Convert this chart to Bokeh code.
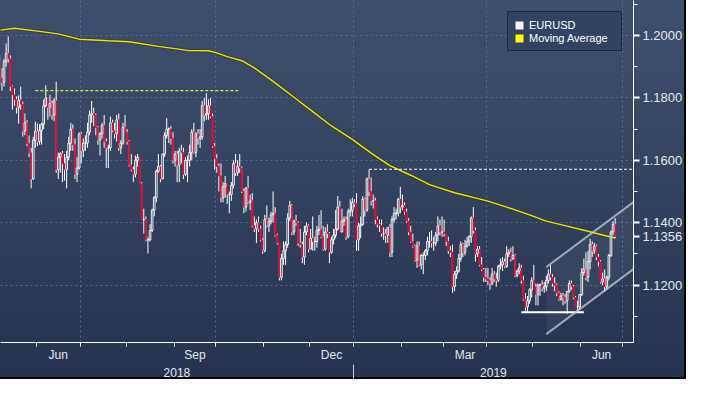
import numpy as np
import pandas as pd
from bokeh.plotting import figure
from bokeh.models import (Range1d, FixedTicker, LinearAxis, Legend,
                          LegendItem, ColumnDataSource)
from bokeh.embed import file_html
from bokeh.resources import INLINE

# ---------------- data (daily EURUSD candles) ----------
start_date = "2018-05-08"
open_first = 1.1917

close_may18 = [1.1863,1.1850,1.1917,1.1942,1.1925,1.1836,1.1810,1.1795,1.1770,1.1792,1.1780,1.1694,1.1720,1.1654,1.1624,1.1540,1.1664,1.1693]
high_may18 = [1.1937,1.1895,1.1925,1.1974,1.1997,1.1936,1.1840,1.1830,1.1805,1.1808,1.1836,1.1788,1.1750,1.1728,1.1680,1.1640,1.1675,1.1724]
low_may18 = [1.1838,1.1823,1.1836,1.1900,1.1913,1.1822,1.1762,1.1775,1.1750,1.1717,1.1762,1.1676,1.1680,1.1645,1.1610,1.1510,1.1537,1.1640]

close_jun18 = [1.1660,1.1696,1.1716,1.1775,1.1799,1.1770,1.1782,1.1745,1.1790,1.1570,1.1610,1.1622,1.1590,1.1570,1.1610,1.1655,1.1700,1.1650,1.1555,1.1575,1.1683]
high_jun18 = [1.1718,1.1716,1.1720,1.1795,1.1840,1.1800,1.1810,1.1792,1.1800,1.1852,1.1625,1.1625,1.1630,1.1620,1.1630,1.1675,1.1720,1.1715,1.1670,1.1610,1.1690]
low_jun18 = [1.1645,1.1650,1.1650,1.1700,1.1770,1.1730,1.1740,1.1730,1.1725,1.1560,1.1540,1.1560,1.1530,1.1535,1.1510,1.1600,1.1630,1.1630,1.1540,1.1530,1.1570]

close_jul18 = [1.1630,1.1655,1.1655,1.1690,1.1745,1.1750,1.1745,1.1705,1.1665,1.1685,1.1712,1.1660,1.1640,1.1640,1.1720,1.1695,1.1685,1.1730,1.1640,1.1655,1.1705,1.1690]
high_jul18 = [1.1690,1.1670,1.1680,1.1720,1.1760,1.1790,1.1768,1.1750,1.1710,1.1690,1.1720,1.1745,1.1670,1.1650,1.1740,1.1730,1.1720,1.1745,1.1750,1.1665,1.1720,1.1745]
low_jul18 = [1.1590,1.1610,1.1630,1.1640,1.1680,1.1720,1.1710,1.1680,1.1650,1.1615,1.1670,1.1640,1.1575,1.1575,1.1630,1.1690,1.1670,1.1660,1.1630,1.1620,1.1650,1.1690]

close_aug18 = [1.1660,1.1585,1.1570,1.1555,1.1600,1.1610,1.1525,1.1410,1.1410,1.1345,1.1345,1.1375,1.1440,1.1480,1.1565,1.1580,1.1540,1.1620,1.1680,1.1700,1.1700,1.1670,1.1600]
high_aug18 = [1.1700,1.1665,1.1620,1.1580,1.1615,1.1620,1.1610,1.1530,1.1445,1.1420,1.1355,1.1395,1.1445,1.1485,1.1570,1.1620,1.1585,1.1620,1.1690,1.1735,1.1705,1.1710,1.1690]
low_aug18 = [1.1650,1.1580,1.1565,1.1530,1.1545,1.1580,1.1525,1.1410,1.1365,1.1340,1.1301,1.1340,1.1370,1.1420,1.1465,1.1560,1.1530,1.1540,1.1610,1.1670,1.1655,1.1650,1.1590]

close_sep18 = [1.1620,1.1585,1.1630,1.1625,1.1555,1.1600,1.1600,1.1625,1.1690,1.1625,1.1685,1.1670,1.1675,1.1775,1.1745,1.1750,1.1775,1.1740,1.1645,1.1605]
high_sep18 = [1.1630,1.1630,1.1640,1.1650,1.1640,1.1610,1.1615,1.1650,1.1700,1.1720,1.1690,1.1700,1.1700,1.1790,1.1800,1.1815,1.1795,1.1800,1.1750,1.1655]
low_sep18 = [1.1580,1.1530,1.1530,1.1590,1.1540,1.1550,1.1530,1.1580,1.1600,1.1620,1.1610,1.1650,1.1640,1.1665,1.1725,1.1730,1.1730,1.1735,1.1640,1.1570]

close_oct18 = [1.1580,1.1550,1.1480,1.1515,1.1525,1.1490,1.1490,1.1520,1.1590,1.1560,1.1580,1.1575,1.1500,1.1450,1.1510,1.1465,1.1470,1.1390,1.1380,1.1400,1.1380,1.1345,1.1310]
high_oct18 = [1.1620,1.1590,1.1590,1.1530,1.1550,1.1525,1.1500,1.1530,1.1600,1.1620,1.1600,1.1620,1.1580,1.1510,1.1515,1.1550,1.1490,1.1495,1.1420,1.1410,1.1420,1.1390,1.1350]
low_oct18 = [1.1560,1.1500,1.1465,1.1465,1.1480,1.1460,1.1430,1.1470,1.1510,1.1550,1.1550,1.1560,1.1495,1.1430,1.1435,1.1460,1.1440,1.1385,1.1370,1.1335,1.1370,1.1340,1.1300]

close_nov18 = [1.1410,1.1390,1.1405,1.1425,1.1430,1.1360,1.1335,1.1225,1.1285,1.1310,1.1330,1.1415,1.1455,1.1370,1.1405,1.1400,1.1335,1.1330,1.1290,1.1370,1.1390,1.1315]
high_nov18 = [1.1425,1.1455,1.1415,1.1435,1.1500,1.1450,1.1365,1.1335,1.1300,1.1340,1.1340,1.1430,1.1470,1.1460,1.1410,1.1425,1.1405,1.1380,1.1340,1.1390,1.1400,1.1395]
low_nov18 = [1.1305,1.1385,1.1370,1.1395,1.1400,1.1355,1.1330,1.1215,1.1215,1.1265,1.1265,1.1320,1.1405,1.1360,1.1360,1.1390,1.1325,1.1320,1.1270,1.1265,1.1360,1.1305]

close_dec18 = [1.1350,1.1340,1.1340,1.1375,1.1380,1.1355,1.1315,1.1370,1.1365,1.1305,1.1345,1.1360,1.1380,1.1450,1.1370,1.1405,1.1410,1.1355,1.1435,1.1440,1.1465]
high_dec18 = [1.1380,1.1420,1.1355,1.1390,1.1425,1.1440,1.1390,1.1385,1.1395,1.1370,1.1355,1.1380,1.1440,1.1485,1.1470,1.1445,1.1420,1.1420,1.1445,1.1475,1.1480]
low_dec18 = [1.1320,1.1310,1.1310,1.1320,1.1360,1.1350,1.1310,1.1310,1.1350,1.1270,1.1300,1.1330,1.1350,1.1375,1.1370,1.1370,1.1390,1.1345,1.1350,1.1420,1.1420]

close_jan19 = [1.1460,1.1345,1.1390,1.1395,1.1475,1.1440,1.1540,1.1500,1.1470,1.1470,1.1410,1.1395,1.1390,1.1365,1.1365,1.1360,1.1385,1.1305,1.1410,1.1430,1.1430,1.1475,1.1450]
high_jan19 = [1.1475,1.1495,1.1400,1.1420,1.1485,1.1480,1.1545,1.1570,1.1545,1.1490,1.1480,1.1420,1.1410,1.1410,1.1385,1.1380,1.1385,1.1395,1.1420,1.1450,1.1445,1.1480,1.1515]
low_jan19 = [1.1450,1.1310,1.1310,1.1350,1.1390,1.1420,1.1435,1.1485,1.1455,1.1445,1.1395,1.1385,1.1370,1.1355,1.1345,1.1335,1.1335,1.1290,1.1290,1.1400,1.1410,1.1420,1.1430]

close_feb19 = [1.1455,1.1435,1.1405,1.1370,1.1340,1.1325,1.1280,1.1325,1.1265,1.1295,1.1295,1.1310,1.1340,1.1340,1.1335,1.1335,1.1360,1.1390,1.1370,1.1370]
high_feb19 = [1.1490,1.1465,1.1445,1.1415,1.1390,1.1365,1.1330,1.1340,1.1340,1.1300,1.1305,1.1315,1.1355,1.1370,1.1375,1.1355,1.1370,1.1420,1.1410,1.1420]
low_feb19 = [1.1440,1.1425,1.1400,1.1360,1.1335,1.1320,1.1275,1.1255,1.1260,1.1250,1.1235,1.1280,1.1295,1.1320,1.1320,1.1310,1.1325,1.1340,1.1360,1.1355]

close_mar19 = [1.1365,1.1340,1.1310,1.1305,1.1195,1.1235,1.1245,1.1285,1.1330,1.1305,1.1325,1.1340,1.1355,1.1415,1.1375,1.1300,1.1315,1.1265,1.1250,1.1225,1.1220]
high_mar19 = [1.1410,1.1365,1.1355,1.1325,1.1330,1.1245,1.1260,1.1300,1.1340,1.1335,1.1345,1.1355,1.1360,1.1420,1.1450,1.1385,1.1325,1.1325,1.1290,1.1255,1.1255]
low_mar19 = [1.1355,1.1325,1.1300,1.1290,1.1175,1.1180,1.1220,1.1240,1.1275,1.1290,1.1295,1.1320,1.1325,1.1335,1.1365,1.1275,1.1290,1.1260,1.1245,1.1210,1.1210]

close_apr19 = [1.1215,1.1205,1.1235,1.1220,1.1215,1.1260,1.1265,1.1275,1.1260,1.1300,1.1305,1.1285,1.1295,1.1230,1.1245,1.1255,1.1215,1.1155,1.1130,1.1150,1.1185,1.1215]
high_apr19 = [1.1255,1.1225,1.1255,1.1245,1.1240,1.1265,1.1285,1.1290,1.1285,1.1325,1.1315,1.1320,1.1325,1.1300,1.1250,1.1270,1.1265,1.1230,1.1175,1.1165,1.1190,1.1225]
low_apr19 = [1.1200,1.1185,1.1200,1.1210,1.1195,1.1210,1.1250,1.1245,1.1255,1.1255,1.1290,1.1275,1.1280,1.1225,1.1225,1.1235,1.1205,1.1150,1.1115,1.1112,1.1140,1.1160]

close_may19 = [1.1195,1.1170,1.1200,1.1200,1.1190,1.1195,1.1215,1.1235,1.1225,1.1205,1.1200,1.1175,1.1155,1.1165,1.1160,1.1150,1.1180,1.1205,1.1195,1.1160,1.1130,1.1130,1.1170]
high_may19 = [1.1265,1.1205,1.1205,1.1205,1.1215,1.1210,1.1230,1.1250,1.1265,1.1235,1.1225,1.1205,1.1180,1.1175,1.1175,1.1170,1.1180,1.1215,1.1215,1.1200,1.1165,1.1150,1.1170]
low_may19 = [1.1195,1.1135,1.1135,1.1165,1.1180,1.1175,1.1180,1.1205,1.1215,1.1195,1.1180,1.1165,1.1150,1.1150,1.1135,1.1140,1.1108,1.1175,1.1185,1.1155,1.1130,1.1115,1.1120]

close_jun19 = [1.1240,1.1250,1.1225,1.1275,1.1330,1.1310,1.1325,1.1290,1.1275,1.1210,1.1220,1.1195,1.1225,1.1295,1.1370,1.1395,1.1356]
high_jun19 = [1.1255,1.1285,1.1305,1.1310,1.1348,1.1340,1.1335,1.1330,1.1300,1.1280,1.1240,1.1250,1.1230,1.1300,1.1375,1.1405,1.1415]
low_jun19 = [1.1165,1.1230,1.1215,1.1210,1.1250,1.1290,1.1300,1.1280,1.1260,1.1205,1.1200,1.1180,1.1185,1.1215,1.1290,1.1360,1.1350]

# moving average (bar index, value)
ma_x = [0, 7, 19, 28, 38, 52, 62, 76, 90, 100, 104, 109, 116, 122, 131, 141, 150,
        159, 169, 178, 187, 197, 206, 218, 227, 234, 243, 254, 262, 272, 281, 290, 295]
ma_y = [1.2017, 1.2023, 1.2013, 1.2005, 1.1988, 1.1983, 1.1980, 1.1965, 1.1952,
        1.1951, 1.1944, 1.1932, 1.1919, 1.1896, 1.1853, 1.1802, 1.1756, 1.1710,
        1.1667, 1.1623, 1.1583, 1.1552, 1.1522, 1.1496, 1.1481, 1.1469, 1.1450,
        1.1425, 1.1405, 1.1389, 1.1374, 1.1359, 1.1351]

# drawn annotations (bar index / price)
resist_x = [17, 115]
resist_y = [1.1823, 1.1823]
break_x = [177, 303.8]
break_y = [1.1571, 1.1571]
support_x = [250, 280]
support_y = [1.1113, 1.1113]
chan_x = [262, 303.8]
chan_up = [1.1258, 1.1466]
chan_lo = [1.1043, 1.1251]

month_labels = ["Jun", "Sep", "Dec", "Mar", "Jun"]
month_label_months = ["2018-06-01", "2018-09-01", "2018-12-01", "2019-03-01", "2019-06-01"]
year_labels = ["2018", "2019"]
y_ticks = [1.12, 1.14, 1.16, 1.18, 1.20]
y_tick_labels = ["1.1200", "1.1400", "1.1600", "1.1800", "1.2000"]
y_minor = [1.11, 1.13, 1.15, 1.17, 1.19, 1.21]
last_price = 1.1356
last_price_label = "1.1356"

# ---------------- build table ----------------
close = sum([close_may18, close_jun18, close_jul18, close_aug18, close_sep18, close_oct18,
             close_nov18, close_dec18, close_jan19, close_feb19, close_mar19, close_apr19,
             close_may19, close_jun19], [])
high = sum([high_may18, high_jun18, high_jul18, high_aug18, high_sep18, high_oct18,
            high_nov18, high_dec18, high_jan19, high_feb19, high_mar19, high_apr19,
            high_may19, high_jun19], [])
low = sum([low_may18, low_jun18, low_jul18, low_aug18, low_sep18, low_oct18,
           low_nov18, low_dec18, low_jan19, low_feb19, low_mar19, low_apr19,
           low_may19, low_jun19], [])
n = len(close)
opn = [open_first] + close[:-1]
high = [max(h, o, c) for h, o, c in zip(high, opn, close)]
low = [min(l, o, c) for l, o, c in zip(low, opn, close)]
xs = list(range(n))
df = pd.DataFrame(dict(x=xs, open=opn, close=close, high=high, low=low))
up = df[df.close >= df.open]
dn = df[df.close < df.open]

sd = np.datetime64(start_date)
def bidx(d):
    return float(np.busday_count(sd, np.datetime64(d))) - 0.5

month_starts = pd.date_range("2018-06-01", "2019-07-01", freq="MS")
month_bounds = [bidx(m.date()) for m in month_starts]
quarter_bounds = [bidx(m.date()) for m in month_starts if m.month in (1, 4, 7, 10)]
label_pos = []
for m in month_label_months:
    a = pd.Timestamp(m)
    b = a + pd.offsets.MonthBegin(1)
    label_pos.append(round((bidx(a.date()) + bidx(b.date())) / 2, 2))
x0, x1 = 0.3, 303.8
jan1 = bidx("2019-01-01")
year_pos = [round((x0 + jan1) / 2, 2), round((jan1 + x1) / 2, 2)]

# ---------------- figure ----------------
BG_TEXT = "#e4e8ee"
FONT = "Liberation Sans"
p = figure(width=686, height=379, x_range=Range1d(x0, x1), y_range=Range1d(1.1016, 1.2112),
           y_axis_location="right", output_backend="svg", toolbar_location=None,
           min_border_left=0, min_border_top=0, min_border_right=53, min_border_bottom=34)
p.background_fill_alpha = 0
p.border_fill_alpha = 0
p.outline_line_color = None
p.styles = {"background": "linear-gradient(180deg, #3f4f6e 0%, #34435f 45%, #2a3753 85%, #27334e 100%)",
            "box-shadow": "inset -2px -2px 0 #050505"}

# grids
p.xgrid.ticker = FixedTicker(ticks=quarter_bounds)
p.ygrid.ticker = FixedTicker(ticks=y_ticks)
for g in (p.xgrid, p.ygrid):
    g.grid_line_color = "#60739a"
    g.grid_line_dash = "2 3"
    g.grid_line_width = 1
    g.grid_line_alpha = 0.8

# channel fill + lines
p.patch(x=chan_x + chan_x[::-1], y=chan_up + chan_lo[::-1], fill_color="white",
        fill_alpha=0.05, line_color=None)

# moving average
p.line(ma_x, ma_y, line_color="#3e3e18", line_width=3.2, line_alpha=0.9)
p.line(ma_x, ma_y, line_color="#e2e22a", line_width=1.4)

# candles
src_all = ColumnDataSource(df)
p.segment(x0="x", y0="low", x1="x", y1="high", source=src_all, line_color="white", line_width=1)
p.vbar(x="x", width=0.8, top="open", bottom="close", source=ColumnDataSource(dn),
       fill_color="#cc143e", line_color="#cc143e", line_width=0.6)
p.vbar(x="x", width=0.8, top="close", bottom="open", source=ColumnDataSource(up),
       fill_color="#33425f", line_color="white", line_width=0.9)

# annotations
p.line(resist_x, resist_y, line_color="#e8e83a", line_dash="3 2", line_width=1.2)
p.line(break_x, break_y, line_color="white", line_dash="3 2", line_width=1.1)
p.line(support_x, support_y, line_color="white", line_width=2)
p.line(chan_x, chan_up, line_color="#c6ccd8", line_alpha=0.75, line_width=2)
p.line(chan_x, chan_lo, line_color="#c6ccd8", line_alpha=0.75, line_width=2)

# legend
r1 = p.quad(left=[np.nan], right=[np.nan], top=[np.nan], bottom=[np.nan],
            fill_color="#fff2f2", line_color=None)
r2 = p.quad(left=[np.nan], right=[np.nan], top=[np.nan], bottom=[np.nan],
            fill_color="#ffff00", line_color=None)
legend = Legend(items=[LegendItem(label="EURUSD", renderers=[r1]),
                       LegendItem(label="Moving Average", renderers=[r2])],
                location="top_right", orientation="vertical")
legend.background_fill_color = "#33435f"
legend.background_fill_alpha = 1
legend.border_line_color = "#0c0c0c"
legend.border_line_width = 1
legend.label_text_color = "white"
legend.label_text_font = FONT
legend.label_text_font_size = "11px"
legend.glyph_width = 10
legend.glyph_height = 10
legend.spacing = 0
legend.padding = 6
legend.margin = 11
legend.label_standoff = 5
legend.label_width = 86
legend.label_height = 13
p.add_layout(legend)

# y axis (right) -- also carries the last-price tag
yax = p.yaxis[0]
yax.ticker = FixedTicker(ticks=y_ticks + [last_price], minor_ticks=y_minor)
overrides = {t: s for t, s in zip(y_ticks, y_tick_labels)}
overrides[last_price] = last_price_label
yax.major_label_overrides = overrides
yax.axis_line_color = "white"
yax.major_tick_line_color = "white"
yax.major_tick_line_width = 2
yax.major_tick_in = 0
yax.major_tick_out = 6
yax.minor_tick_line_color = "white"
yax.minor_tick_in = 0
yax.minor_tick_out = 4
yax.major_label_text_color = BG_TEXT
yax.major_label_text_font = FONT
yax.major_label_text_font_size = "13px"
yax.major_label_standoff = 3

# x axis: month labels + month boundary ticks
xax = p.xaxis[0]
xax.ticker = FixedTicker(ticks=label_pos, minor_ticks=month_bounds)
xax.major_label_overrides = {t: s for t, s in zip(label_pos, month_labels)}
xax.axis_line_color = "white"
xax.major_tick_line_color = None
xax.major_tick_in = 0
xax.major_tick_out = 0
xax.minor_tick_line_color = "white"
xax.minor_tick_in = 0
xax.minor_tick_out = 4
xax.major_label_text_color = BG_TEXT
xax.major_label_text_font = FONT
xax.major_label_text_font_size = "12px"
xax.major_label_standoff = 1

yr = LinearAxis(ticker=FixedTicker(ticks=year_pos, minor_ticks=[jan1]),
                major_label_overrides={t: s for t, s in zip(year_pos, year_labels)})
yr.axis_line_color = None
yr.major_tick_line_color = None
yr.major_tick_in = 0
yr.major_tick_out = 0
yr.minor_tick_line_color = "#c8ccd4"
yr.minor_tick_in = 0
yr.minor_tick_out = 16
yr.major_label_text_color = BG_TEXT
yr.major_label_text_font = FONT
yr.major_label_text_font_size = "12px"
yr.major_label_standoff = -13
p.add_layout(yr, "below")

open("out.html", "w").write(file_html(p, INLINE))
